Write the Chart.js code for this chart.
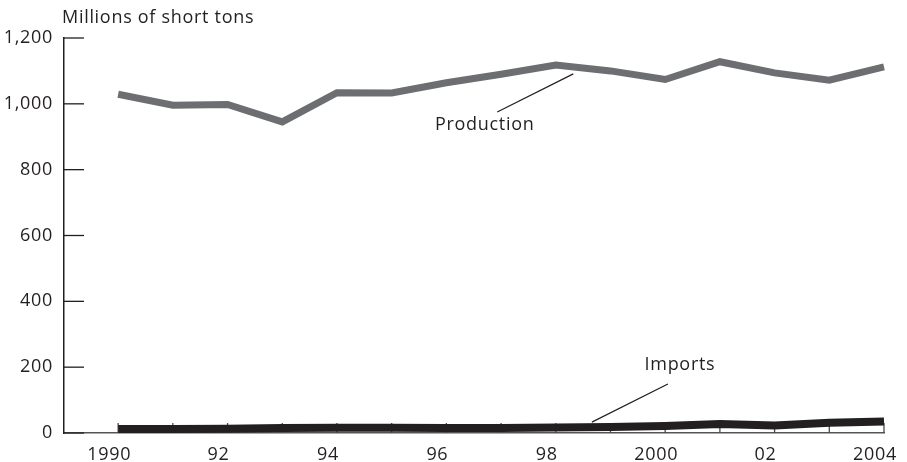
<!DOCTYPE html>
<html>
<head>
<meta charset="utf-8">
<script src="https://cdn.jsdelivr.net/npm/chart.js@4/dist/chart.umd.min.js"></script>
<style>
  html, body { margin: 0; padding: 0; background: #fff; }
  canvas { display: block; }
</style>
</head>
<body>
<canvas id="coalChart" width="907" height="462"></canvas>
<script>
// Datos (millones de toneladas cortas)
const years = [1990, 1991, 1992, 1993, 1994, 1995, 1996, 1997, 1998, 1999, 2000, 2001, 2002, 2003, 2004];
const production = [1029, 996, 998, 945, 1034, 1033, 1064, 1090, 1118, 1100, 1074, 1128, 1094, 1072, 1112];
const imports = [12, 12, 13, 15, 16, 16, 15, 15, 17, 18, 21, 27, 23, 31, 35];
const yTicks = [0, 200, 400, 600, 800, 1000, 1200];
const xTickLabels = ['1990', '', '92', '', '94', '', '96', '', '98', '', '2000', '', '02', '', '2004'];
const unitLabel = 'Millions of short tons';

const FONT = '"Open Sans", "Noto Sans", sans-serif';
const INK = '#231f20';
const GREY = '#6d6e71';

function toPoints(values) {
    return years.map((yr, i) => ({ x: yr, y: values[i] }));
}

function strokeLine(ctx, x1, y1, x2, y2) {
    ctx.beginPath();
    ctx.moveTo(x1, y1);
    ctx.lineTo(x2, y2);
    ctx.stroke();
}

// Marcas de ejes hacia dentro, título de unidades y rótulos con línea guía
const decor = {
    id: 'decor',
    beforeDraw(chart) {
        // tipografía algo más espaciada, como en el original
        chart.ctx.letterSpacing = '0.7px';
    },
    beforeDatasetsDraw(chart) {
        const { ctx, chartArea: a, scales: { x, y } } = chart;
        ctx.save();
        ctx.lineWidth = 1.3;
        ctx.strokeStyle = '#4a4a4a';
        years.forEach(v => {
            const px = x.getPixelForValue(v);
            strokeLine(ctx, px, a.bottom, px, a.bottom - 10);
        });
        ctx.strokeStyle = INK;
        yTicks.forEach(v => {
            const py = y.getPixelForValue(v);
            strokeLine(ctx, a.left, py, a.left + 20, py);
        });
        ctx.restore();
    },
    afterDatasetsDraw(chart) {
        const { ctx, scales: { x, y } } = chart;
        ctx.save();
        ctx.fillStyle = INK;
        ctx.font = '18px ' + FONT;
        ctx.textBaseline = 'middle';
        ctx.textAlign = 'left';
        ctx.fillText(unitLabel, 62, 18);

        ctx.strokeStyle = INK;
        ctx.lineWidth = 1.2;
        // Production
        strokeLine(ctx, x.getPixelForValue(1996.93), y.getPixelForValue(975),
                        x.getPixelForValue(1998.32), y.getPixelForValue(1091));
        ctx.textAlign = 'center';
        ctx.fillText('Production', x.getPixelForValue(1996.7), y.getPixelForValue(936));
        // Imports
        strokeLine(ctx, x.getPixelForValue(2000.05), y.getPixelForValue(149),
                        x.getPixelForValue(1998.66), y.getPixelForValue(33));
        ctx.fillText('Imports', x.getPixelForValue(2000.27), y.getPixelForValue(207));
        ctx.restore();
    }
};

const ctx = document.getElementById('coalChart').getContext('2d');
const coalChart = new Chart(ctx, {
    type: 'line',
    data: {
        datasets: [
            {
                label: 'Imports',
                data: toPoints(imports),
                borderColor: INK,
                borderWidth: 8,
                pointRadius: 0,
                tension: 0,
                borderJoinStyle: 'miter',
                borderCapStyle: 'butt',
                clip: false
            },
            {
                label: 'Production',
                data: toPoints(production),
                borderColor: GREY,
                borderWidth: 7,
                pointRadius: 0,
                tension: 0,
                borderJoinStyle: 'miter',
                borderCapStyle: 'butt',
                clip: false
            }
        ]
    },
    options: {
        responsive: false,
        animation: false,
        devicePixelRatio: 1,
        layout: { padding: { top: 38, right: 23, left: 0, bottom: 0 } },
        plugins: {
            legend: { display: false },
            tooltip: { enabled: false }
        },
        scales: {
            x: {
                type: 'linear',
                min: 1989.01,
                max: 2004,
                afterBuildTicks: s => { s.ticks = years.map(v => ({ value: v })); },
                afterFit: s => { s.height = 29; s.paddingLeft = 0; s.paddingRight = 0; },
                grid: { display: false, drawTicks: false, tickLength: 0 },
                border: { display: true, color: '#555', width: 1.5 },
                ticks: {
                    autoSkip: false,
                    maxRotation: 0,
                    padding: 11,
                    labelOffset: -9,
                    color: INK,
                    font: { family: FONT, size: 18 },
                    callback: (v, i) => xTickLabels[i]
                }
            },
            y: {
                min: 0,
                max: 1200,
                afterBuildTicks: s => { s.ticks = yTicks.map(v => ({ value: v })); },
                afterFit: s => { s.width = 64; s.paddingTop = 0; s.paddingBottom = 0; },
                grid: { display: false, drawTicks: false, tickLength: 0 },
                border: { display: true, color: INK, width: 1.5 },
                ticks: {
                    padding: 11,
                    color: INK,
                    font: { family: FONT, size: 18 },
                    callback: v => v.toLocaleString('en-US')
                }
            }
        }
    },
    plugins: [decor]
});
</script>
</body>
</html>
